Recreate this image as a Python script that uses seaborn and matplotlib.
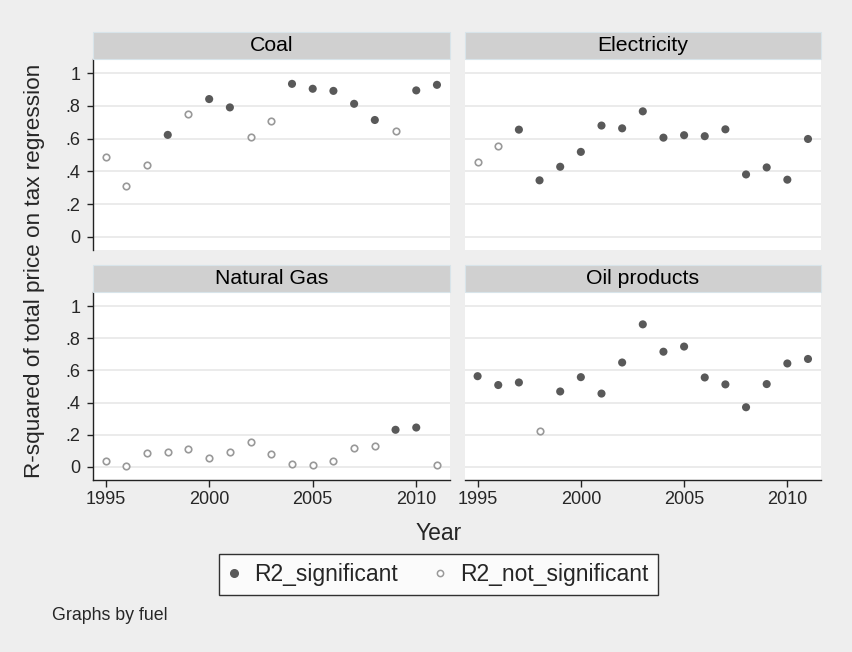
import numpy as np
import pandas as pd
import seaborn as sns
import matplotlib
matplotlib.use("Agg")
import matplotlib.pyplot as plt
from matplotlib.patches import Rectangle
from matplotlib.lines import Line2D

years = list(range(1995, 2012))
fuels = ["Coal", "Electricity", "Natural Gas", "Oil products"]

coal_r2 = [0.487, 0.308, 0.438, 0.623, 0.753, 0.842, 0.791, 0.607, 0.708,
           0.935, 0.905, 0.892, 0.813, 0.714, 0.647, 0.895, 0.929]
coal_sig = [0, 0, 0, 1, 0, 1, 1, 0, 0, 1, 1, 1, 1, 1, 0, 1, 1]

elec_r2 = [0.456, 0.554, 0.655, 0.345, 0.428, 0.519, 0.680, 0.663, 0.767,
           0.606, 0.621, 0.615, 0.657, 0.381, 0.424, 0.349, 0.598]
elec_sig = [0, 0, 1, 1, 1, 1, 1, 1, 1, 1, 1, 1, 1, 1, 1, 1, 1]

gas_r2 = [0.039, 0.004, 0.089, 0.091, 0.114, 0.055, 0.093, 0.152, 0.083,
          0.018, 0.012, 0.034, 0.118, 0.130, 0.231, 0.245, 0.010]
gas_sig = [0, 0, 0, 0, 0, 0, 0, 0, 0, 0, 0, 0, 0, 0, 1, 1, 0]

oil_r2 = [0.564, 0.509, 0.525, 0.221, 0.469, 0.558, 0.456, 0.649, 0.886,
          0.716, 0.748, 0.556, 0.513, 0.371, 0.515, 0.643, 0.671]
oil_sig = [1, 1, 1, 0, 1, 1, 1, 1, 1, 1, 1, 1, 1, 1, 1, 1, 1]

y_ticks = [0, 0.2, 0.4, 0.6, 0.8, 1.0]
y_ticklabels = ["0", ".2", ".4", ".6", ".8", "1"]
x_ticks = [1995, 2000, 2005, 2010]
legend_labels = ["R2_significant", "R2_not_significant"]

rows = []
for fuel, vals, sigs in zip(fuels, [coal_r2, elec_r2, gas_r2, oil_r2],
                            [coal_sig, elec_sig, gas_sig, oil_sig]):
    for yr, v, s in zip(years, vals, sigs):
        rows.append({"fuel": fuel, "year": yr, "r2": v, "sig": s})
df = pd.DataFrame(rows)

sns.set_theme(style="white")
plt.rcParams["font.family"] = ["Liberation Sans", "DejaVu Sans"]

BG = "#eeeeee"
DARK = "#595959"
LIGHT = "#999999"


def draw(data, **kw):
    ax = plt.gca()
    sig = data[data["sig"] == 1]
    nsig = data[data["sig"] == 0]
    sns.scatterplot(data=sig, x="year", y="r2", ax=ax, color=DARK, s=34,
                    edgecolor="none", linewidth=0, zorder=3)
    sns.scatterplot(data=nsig, x="year", y="r2", ax=ax, s=22,
                    facecolor="white", edgecolor=LIGHT, linewidth=1.2, zorder=3)


g = sns.FacetGrid(df, col="fuel", col_wrap=2, col_order=fuels,
                  sharex=True, sharey=True, height=3, aspect=1.2)
g.map_dataframe(draw)
fig = g.figure
fig.set_size_inches(8.52, 6.52)
fig.set_dpi(100)
fig.patch.set_facecolor(BG)

W, H = 852.0, 652.0
boxes = {
    "Coal": (93, 59, 450, 250),
    "Electricity": (465, 59, 821, 250),
    "Natural Gas": (93, 292, 450, 480),
    "Oil products": (465, 292, 821, 480),
}
strip_h = 27

for ax, fuel in zip(g.axes.flat, fuels):
    x0, y0, x1, y1 = boxes[fuel]
    ax.set_position([x0 / W, 1 - y1 / H, (x1 - x0) / W, (y1 - y0) / H])
    ax.set_facecolor("white")
    ax.set_title("")
    ax.set_xlabel("")
    ax.set_ylabel("")
    ax.set_xlim(1994.39, 2011.63)
    ax.set_ylim(-0.081, 1.087)
    ax.set_yticks(y_ticks)
    ax.set_yticklabels(y_ticklabels)
    ax.set_xticks(x_ticks)
    ax.yaxis.grid(True, color="#e6e6e6", linewidth=1.1)
    ax.xaxis.grid(False)
    ax.set_axisbelow(True)
    for sp in ["top", "right"]:
        ax.spines[sp].set_visible(False)
    left = fuel in ("Coal", "Natural Gas")
    bottom = fuel in ("Natural Gas", "Oil products")
    ax.spines["left"].set_visible(left)
    ax.spines["bottom"].set_visible(bottom)
    for sp in ["left", "bottom"]:
        ax.spines[sp].set_color("#222222")
        ax.spines[sp].set_linewidth(1.0)
    ax.tick_params(axis="y", left=left, labelleft=left, length=4.5, width=1,
                   color="#222222", labelsize=13, pad=4.5)
    ax.tick_params(axis="x", bottom=bottom, labelbottom=bottom, length=5,
                   width=1, color="#222222", labelsize=13, pad=3)
    # strip header
    sh = strip_h / (y1 - y0)
    ax.add_patch(Rectangle((0, 1), 1, sh, transform=ax.transAxes,
                           facecolor="#d0d0d0", edgecolor="#d8e4ea",
                           linewidth=0.8, clip_on=False, zorder=5))
    ax.text(0.5, 1 + sh / 2, fuel, transform=ax.transAxes, ha="center",
            va="center", fontsize=15.3, color="black", zorder=6)

fig.text(35 / W, 1 - 271 / H, "R-squared of total price on tax regression",
         rotation=90, ha="center", va="center", fontsize=16.2)
fig.text(439 / W, 1 - 533 / H, "Year", ha="center", va="center", fontsize=16.5)
fig.text(52 / W, 1 - 616 / H, "Graphs by fuel", ha="left", va="center",
         fontsize=12.8)

handles = [
    Line2D([], [], linestyle="none", marker="o", markersize=5.5,
           markerfacecolor=DARK, markeredgecolor=DARK),
    Line2D([], [], linestyle="none", marker="o", markersize=4.5,
           markerfacecolor="white", markeredgecolor=LIGHT, markeredgewidth=1.1),
]
leg = fig.legend(handles, legend_labels, loc="center",
                 bbox_to_anchor=(438.5 / W, 1 - 574.5 / H), ncol=2,
                 frameon=True, fancybox=False, fontsize=16.5,
                 handlelength=0.5, handletextpad=0.62, columnspacing=1.6,
                 borderpad=0.4)
leg.get_frame().set_edgecolor("black")
leg.get_frame().set_linewidth(1.0)
leg.get_frame().set_facecolor("white")

fig.savefig("out.png", dpi=100, facecolor=BG)
